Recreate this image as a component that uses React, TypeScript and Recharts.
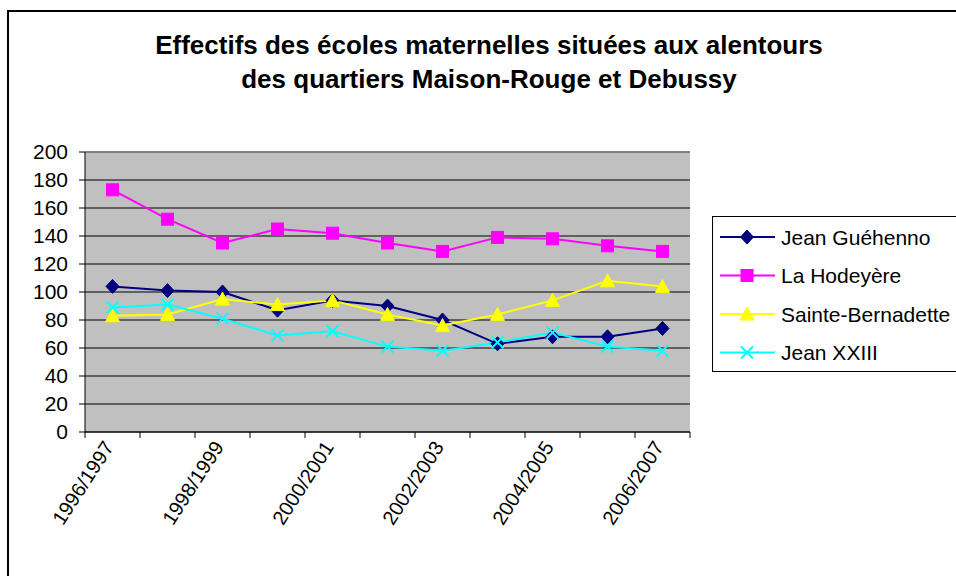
import React from 'react';
import { LineChart, Line, XAxis, YAxis, CartesianGrid, ReferenceLine } from 'recharts';

const categories = [
  '1996/1997', '1997/1998', '1998/1999', '1999/2000', '2000/2001', '2001/2002',
  '2002/2003', '2003/2004', '2004/2005', '2005/2006', '2006/2007',
];
const jeanGuehenno = [104, 101, 100, 87, 94, 90, 80, 63, 68, 68, 74];
const laHodeyere = [173, 152, 135, 145, 142, 135, 129, 139, 138, 133, 129];
const sainteBernadette = [83, 84, 95, 91, 94, 84, 76, 84, 94, 108, 104];
const jeanXXIII = [89, 91, 81, 69, 72, 61, 58, 64, 71, 61, 58];
const yTicks = [0, 20, 40, 60, 80, 100, 120, 140, 160, 180, 200];

const title1 = 'Effectifs des écoles maternelles situées aux alentours';
const title2 = 'des quartiers Maison-Rouge et Debussy';

const FONT = '"Liberation Sans", Arial, Helvetica, sans-serif';

type Shape = 'diamond' | 'square' | 'triangle' | 'x';
const series: { key: string; name: string; color: string; shape: Shape; values: number[] }[] = [
  { key: 'jg', name: 'Jean Guéhenno', color: '#000080', shape: 'diamond', values: jeanGuehenno },
  { key: 'lh', name: 'La Hodeyère', color: '#FF00FF', shape: 'square', values: laHodeyere },
  { key: 'sb', name: 'Sainte-Bernadette', color: '#FFFF00', shape: 'triangle', values: sainteBernadette },
  { key: 'jx', name: 'Jean XXIII', color: '#00FFFF', shape: 'x', values: jeanXXIII },
];

const data = categories.map((cat, i) => {
  const row: Record<string, string | number> = { cat };
  series.forEach((s) => {
    row[s.key] = s.values[i];
  });
  return row;
});

const CHART_W = 956;
const CHART_H = 576;
const MARGIN = { top: 152, right: 266, bottom: 44, left: 0 };
const Y_AXIS_W = 85;
const PLOT_W = CHART_W - MARGIN.left - MARGIN.right - Y_AXIS_W;
const BAND = PLOT_W / categories.length;

function marker(shape: Shape, cx: number, cy: number, color: string, key?: string | number) {
  if (shape === 'diamond') {
    return (
      <path key={key} d={`M${cx},${cy - 7}L${cx + 6.5},${cy}L${cx},${cy + 7}L${cx - 6.5},${cy}Z`} fill={color} stroke={color} strokeWidth={1} />
    );
  }
  if (shape === 'square') {
    return <rect key={key} x={cx - 6} y={cy - 6} width={12} height={12} fill={color} stroke={color} strokeWidth={1} />;
  }
  if (shape === 'triangle') {
    return (
      <path key={key} d={`M${cx},${cy - 7}L${cx + 7},${cy + 6}L${cx - 7},${cy + 6}Z`} fill={color} stroke={color} strokeWidth={1} />
    );
  }
  return (
    <path key={key} d={`M${cx - 6},${cy - 6}L${cx + 6},${cy + 6}M${cx + 6},${cy - 6}L${cx - 6},${cy + 6}`} fill="none" stroke={color} strokeWidth={2} />
  );
}

const XTick = (props: any) => {
  const { x, y, payload, index, visibleTicksCount } = props;
  const lx = x - BAND / 2;
  const showLabel = index % 2 === 0;
  const tx = x + 2;
  const ty = y + 15;
  return (
    <g>
      <line x1={lx} y1={y} x2={lx} y2={y + 6} stroke="#000" strokeWidth={1} />
      {index === visibleTicksCount - 1 && (
        <line x1={x + BAND / 2} y1={y} x2={x + BAND / 2} y2={y + 6} stroke="#000" strokeWidth={1} />
      )}
      {showLabel && (
        <text
          x={tx}
          y={ty}
          transform={`rotate(-57, ${tx}, ${ty})`}
          textAnchor="end"
          fontSize={20}
          fontFamily={FONT}
          fill="#000"
        >
          {payload.value}
        </text>
      )}
    </g>
  );
};

export default function App() {
  return (
    <div
      style={{
        position: 'absolute',
        left: 0,
        top: 0,
        width: CHART_W,
        height: CHART_H,
        overflow: 'hidden',
        background: '#fff',
        fontFamily: FONT,
      }}
    >
      <div
        style={{
          position: 'absolute',
          left: 7,
          top: 10,
          width: 1000,
          height: 1000,
          border: '2px solid #000',
          boxSizing: 'border-box',
        }}
      />
      <div style={{ position: 'absolute', left: 0, top: 0 }}>
        <LineChart width={CHART_W} height={CHART_H} data={data} margin={MARGIN}>
          <CartesianGrid vertical={false} stroke="#000" strokeWidth={1} fill="#C0C0C0" fillOpacity={1} />
          <XAxis
            dataKey="cat"
            interval={0}
            height={100}
            padding={{ left: BAND / 2, right: BAND / 2 }}
            tickSize={0}
            tickMargin={0}
            tickLine={false}
            axisLine={{ stroke: '#000', strokeWidth: 1 }}
            tick={<XTick />}
          />
          <YAxis
            width={Y_AXIS_W}
            domain={[0, 200]}
            ticks={yTicks}
            interval={0}
            tickSize={6}
            tickMargin={11}
            axisLine={{ stroke: '#000', strokeWidth: 1 }}
            tickLine={{ stroke: '#000', strokeWidth: 1 }}
            tick={{ fill: '#000', fontSize: 21, fontFamily: FONT }}
          />
          <YAxis
            yAxisId="r"
            orientation="right"
            width={0}
            domain={[0, 200]}
            tick={false}
            tickLine={false}
            axisLine={{ stroke: '#808080', strokeWidth: 2 }}
          />
          <ReferenceLine y={200} stroke="#808080" strokeWidth={2} />
          {series.map((s) => (
            <Line
              key={s.key}
              type="linear"
              dataKey={s.key}
              name={s.name}
              stroke={s.color}
              strokeWidth={2}
              isAnimationActive={false}
              dot={(p: any) => marker(s.shape, p.cx, p.cy, s.color, `${s.key}-${p.index}`)}
              activeDot={false}
            />
          ))}
        </LineChart>
      </div>
      <svg
        width={CHART_W}
        height={120}
        style={{ position: 'absolute', left: 0, top: 0, pointerEvents: 'none' }}
      >
        <text x={489} y={54} textAnchor="middle" fontSize={26} fontWeight="bold" fontFamily={FONT} fill="#000">
          {title1}
        </text>
        <text x={489} y={88} textAnchor="middle" fontSize={26} fontWeight="bold" fontFamily={FONT} fill="#000">
          {title2}
        </text>
      </svg>
      <div
        style={{
          position: 'absolute',
          left: 712,
          top: 216,
          width: 260,
          height: 156,
          border: '1px solid #000',
          boxSizing: 'border-box',
          background: '#fff',
        }}
      >
        <svg width={260} height={156} style={{ position: 'absolute', left: -1, top: -1 }}>
          {series.map((s, i) => {
            const cy = 21 + i * 38.5;
            return (
              <g key={s.key}>
                <line x1={8} y1={cy} x2={63} y2={cy} stroke={s.color} strokeWidth={2} />
                {marker(s.shape, 35, cy, s.color)}
                <text x={69} y={cy + 7.5} fontSize={21} fontFamily={FONT} fill="#000">
                  {s.name}
                </text>
              </g>
            );
          })}
        </svg>
      </div>
    </div>
  );
}
